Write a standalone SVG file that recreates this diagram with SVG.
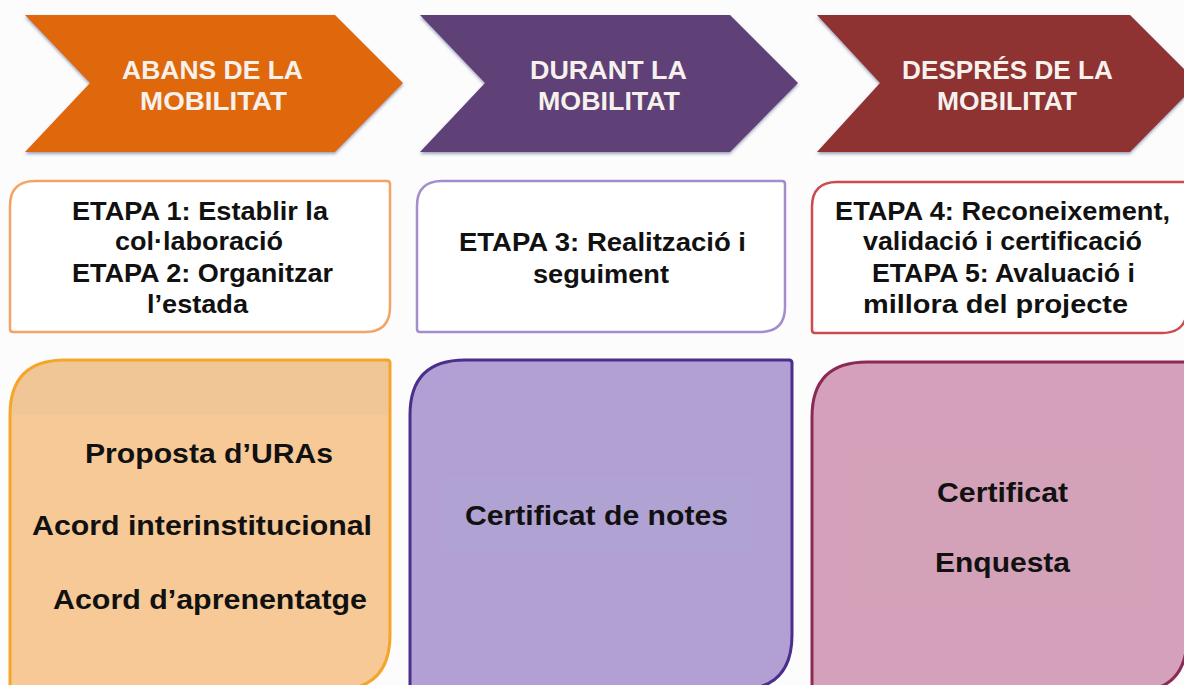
<svg xmlns="http://www.w3.org/2000/svg" width="1184" height="685" viewBox="0 0 1184 685">
<style>
text{font-family:"Liberation Sans",Arial,sans-serif;font-weight:bold;text-anchor:middle}
.hd{fill:#f6f1ec;font-size:25px}
.md{fill:#111;font-size:25px}
.bt{fill:#111;font-size:27px}
.mid{fill:#fff;stroke-width:2.5}
.low{stroke-width:3}
</style>
<defs>
<filter id="sh" x="-5%" y="-5%" width="110%" height="120%">
<feDropShadow dx="0" dy="2" stdDeviation="1.5" flood-color="#3a4a7a" flood-opacity="0.5"/>
</filter>
<clipPath id="c1"><path d="M65,360 H387 Q390,360 390,363 V635 Q390,690 335,690 H13 Q10,690 10,687 V415 Q10,360 65,360 Z"/></clipPath>
</defs>
<rect width="1184" height="685" fill="#fcfcfc"/>

<g id="chevron-abans">
<polygon points="25,15 335,15 403,83 335,152 25,152 90,83" fill="#df670f" filter="url(#sh)"/>
<text class="hd" x="212.5" y="79" textLength="181" lengthAdjust="spacingAndGlyphs">ABANS DE LA</text>
<text class="hd" x="213.5" y="110" textLength="147" lengthAdjust="spacingAndGlyphs">MOBILITAT</text>
</g>
<g id="chevron-durant">
<polygon points="420,15 730,15 798,83 730,152 420,152 485,83" fill="#5f3f77" filter="url(#sh)"/>
<text class="hd" x="608.5" y="79" textLength="157" lengthAdjust="spacingAndGlyphs">DURANT LA</text>
<text class="hd" x="609" y="110" textLength="142" lengthAdjust="spacingAndGlyphs">MOBILITAT</text>
</g>
<g id="chevron-despres">
<polygon points="817,15 1130,15 1198,83 1130,152 817,152 880,83" fill="#8e3232" filter="url(#sh)"/>
<text class="hd" x="1007.5" y="79" textLength="211" lengthAdjust="spacingAndGlyphs">DESPRÉS DE LA</text>
<text class="hd" x="1007" y="110" textLength="140" lengthAdjust="spacingAndGlyphs">MOBILITAT</text>
</g>

<g id="etapa-1-2">
<path class="mid" d="M35,181 H387 Q390,181 390,184 V307 Q390,332 365,332 H13 Q10,332 10,329 V206 Q10,181 35,181 Z" stroke="#f2a466"/>
<text class="md" x="200" y="220" textLength="256" lengthAdjust="spacingAndGlyphs">ETAPA 1: Establir la</text>
<text class="md" x="199" y="250" textLength="168" lengthAdjust="spacingAndGlyphs">col·laboració</text>
<text class="md" x="202.5" y="282" textLength="261" lengthAdjust="spacingAndGlyphs">ETAPA 2: Organitzar</text>
<text class="md" x="197.5" y="313" textLength="101" lengthAdjust="spacingAndGlyphs">l’estada</text>
</g>
<g id="etapa-3">
<path class="mid" d="M442,181 H782 Q785,181 785,184 V307 Q785,332 760,332 H420 Q417,332 417,329 V206 Q417,181 442,181 Z" stroke="#a48dcc"/>
<text class="md" x="602.5" y="251" textLength="287" lengthAdjust="spacingAndGlyphs">ETAPA 3: Realització i</text>
<text class="md" x="601" y="283" textLength="136" lengthAdjust="spacingAndGlyphs">seguiment</text>
</g>
<g id="etapa-4-5">
<path class="mid" d="M837,182 H1184 Q1187,182 1187,185 V308 Q1187,333 1162,333 H815 Q812,333 812,330 V207 Q812,182 837,182 Z" stroke="#cc4b4d"/>
<text class="md" x="1002.5" y="220" textLength="335" lengthAdjust="spacingAndGlyphs">ETAPA 4: Reconeixement,</text>
<text class="md" x="1002.5" y="250" textLength="279" lengthAdjust="spacingAndGlyphs">validació i certificació</text>
<text class="md" x="1003.5" y="282" textLength="263" lengthAdjust="spacingAndGlyphs">ETAPA 5: Avaluació i</text>
<text class="md" x="995.5" y="313" textLength="265" lengthAdjust="spacingAndGlyphs">millora del projecte</text>
</g>

<g id="docs-abans">
<path d="M65,360 H387 Q390,360 390,363 V635 Q390,690 335,690 H13 Q10,690 10,687 V415 Q10,360 65,360 Z" fill="#f6c997"/>
<rect x="10" y="360" width="380" height="55" fill="#efc497" opacity="0.6" clip-path="url(#c1)"/>
<path class="low" d="M65,360 H387 Q390,360 390,363 V635 Q390,690 335,690 H13 Q10,690 10,687 V415 Q10,360 65,360 Z" fill="none" stroke="#f4a52a"/>
<text class="bt" x="209" y="463" textLength="248" lengthAdjust="spacingAndGlyphs">Proposta d’URAs</text>
<text class="bt" x="202" y="535" textLength="340" lengthAdjust="spacingAndGlyphs">Acord interinstitucional</text>
<text class="bt" x="210" y="609" textLength="314" lengthAdjust="spacingAndGlyphs">Acord d’aprenentatge</text>
</g>
<g id="docs-durant">
<path class="low" d="M465,360 H789 Q792,360 792,363 V635 Q792,690 737,690 H413 Q410,690 410,687 V415 Q410,360 465,360 Z" fill="#b2a0d5" stroke="#4b2f8c"/>
<rect x="441" y="477" width="312" height="76" fill="#aea4d0" opacity="0.5"/>
<text class="bt" x="596.5" y="525" textLength="263" lengthAdjust="spacingAndGlyphs">Certificat de notes</text>
</g>
<g id="docs-despres">
<path class="low" d="M867,362 H1184 Q1187,362 1187,365 V637 Q1187,692 1132,692 H815 Q812,692 812,689 V417 Q812,362 867,362 Z" fill="#d4a0ba" stroke="#8b2b55"/>
<rect x="860" y="455" width="283" height="145" fill="#d2a4b6" opacity="0.5"/>
<text class="bt" x="1002.5" y="502" textLength="131" lengthAdjust="spacingAndGlyphs">Certificat</text>
<text class="bt" x="1002.5" y="572" textLength="135" lengthAdjust="spacingAndGlyphs">Enquesta</text>
</g>
</svg>
